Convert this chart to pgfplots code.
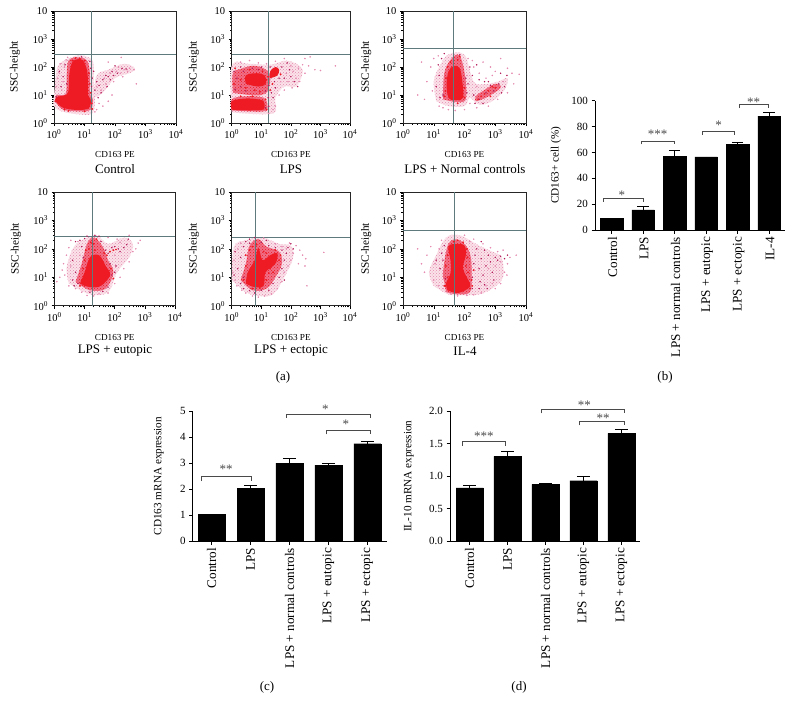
\documentclass[border=0pt]{standalone}
\usepackage{fontspec}
\setmainfont{Liberation Serif}
\usepackage{pgfplots}
\usetikzlibrary{patterns}
\pgfplotsset{compat=1.18}

\definecolor{halo}{HTML}{FBE3EA}
\definecolor{midred}{HTML}{F07088}
\definecolor{corered}{HTML}{EE1A24}
\definecolor{lightdot}{HTML}{E58AB0}
\definecolor{darkdot}{HTML}{B31C58}
\definecolor{gatecol}{HTML}{5F7A7C}
\definecolor{brkcol}{HTML}{4A4A4A}

\tikzset{
  halofill/.style={fill=halo,draw=none,smooth,tension=0.6,postaction={pattern=crosshatch dots,pattern color=lightdot}},
  midfill/.style={fill=midred,draw=none,smooth,tension=0.6,postaction={pattern=crosshatch dots,pattern color=corered}},
  corefill/.style={fill=corered,draw=none,smooth,tension=0.6},
  lightpts/.style={only marks,mark=*,mark size=0.55pt,color=lightdot},
  darkpts/.style={only marks,mark=*,mark size=0.5pt,color=darkdot},
  redpts/.style={only marks,mark=*,mark size=0.7pt,color=corered},
  gateline/.style={color=gatecol,line width=0.9pt},
}

\pgfplotsset{
  facspanel/.style={
    scale only axis,clip=false,
    xmin=1,xmax=10000,ymin=1,ymax=10000,
    xtick={1,10,100,1000,10000},ytick={1,10,100,1000,10000},
    xticklabels={10\textsuperscript{0},10\textsuperscript{1},10\textsuperscript{2},10\textsuperscript{3},10\textsuperscript{4}},
    yticklabels={10\textsuperscript{0},10\textsuperscript{1},10\textsuperscript{2},10\textsuperscript{3},10},
    tick label style={font=\fontsize{10.5}{11}\selectfont},
    tick align=outside,
    major tick length=3pt,minor tick length=1.6pt,
    xtick pos=bottom,ytick pos=left,
    axis line style={color=black!85,line width=0.8pt},
    tick style={color=black,line width=0.5pt},
    xlabel={CD163 PE},ylabel={SSC-height},
    every axis x label/.style={at={(axis description cs:0.5,-0.277)},anchor=center,font=\fontsize{9.2}{10}\selectfont},
    every axis y label/.style={at={(axis description cs:-0.32,0.5)},rotate=90,anchor=center,font=\fontsize{11.2}{12}\selectfont},
  },
  barpanel/.style={
    scale only axis,clip=false,
    axis x line*=bottom,axis y line*=left,
    axis line style={-,line width=1pt},
    ybar,ymin=0,
    xtick=data,
    x tick label style={rotate=90,anchor=east,font=\fontsize{13.2}{14}\selectfont},
    y tick label style={font=\fontsize{11}{12}\selectfont},
    major tick length=3.5pt,
    tick style={line width=1pt,color=black},
    tick align=outside,
    xtick pos=bottom,ytick pos=left,
  },
  ebar/.style={
    fill=black,draw=black,
    error bars/.cd,y dir=plus,y explicit,
    error bar style={line width=0.9pt,color=black},
    error mark options={rotate=90,mark size=#1,line width=0.9pt,color=black},
  },
}

% bracket: x1, low end at x1, top, x2, low end at x2
\newcommand{\brk}[5]{\addplot[sharp plot,color=brkcol,line width=0.7pt] coordinates {(#1,#2)(#1,#3)(#4,#3)(#4,#5)};}
\newcommand{\starlab}[3]{\node[font=\fontsize{13}{13}\selectfont,color=brkcol,yshift=-2pt] at (axis cs:#1,#2) {#3};}
\newcommand{\lab}[3]{\node[font=\fontsize{13}{14}\selectfont] at (#1pt,-#2pt) {#3};}

\begin{document}
\begin{tikzpicture}
\path[use as bounding box] (0pt,0pt) rectangle (793pt,-713pt);

% ---------- (a) Control
\begin{axis}[xmode=log,ymode=log,facspanel,at={(54pt,-123pt)},anchor=south west,width=122pt,height=112pt]
\addplot[halofill] coordinates {(1,9)(1,4)(2,2.5)(8,2)(18,2.2)(22,6)(20,30)(20,120)(15,210)(6,260)(2,160)(1.3,100)(1.1,30)(1,9)} --cycle;
\addplot[halofill] coordinates {(20,8)(40,12)(100,40)(300,60)(450,90)(200,130)(60,80)(25,50)(20,8)} --cycle;
\addplot[midfill] coordinates {(1.1,6)(2,3)(8,2.6)(16,3)(19,7)(15,12)(15,60)(12,170)(6,220)(3,170)(2.6,50)(2.4,11)(1.2,10)(1.1,6)} --cycle;
\addplot[corefill] coordinates {(1.3,5)(2,3.5)(4,3)(10,3)(15,3.8)(16,7)(13,10)(13,30)(12,80)(9,170)(6,190)(4,150)(3.2,60)(3,15)(2.5,10)(1.5,9)(1.1,7)(1.3,5)} --cycle;
\addplot[lightpts] coordinates {(1.2,20)(1.5,60)(1.6,130)(2.2,100)(2.5,180)(1.3,40)(2,30)(1.8,15)(2.8,220)(25,20)(35,15)(30,5)(50,25)(45,40)(70,60)(90,30)(110,70)(130,100)(160,220)(150,60)(200,80)(260,70)(300,90)(420,80)(500,25)(80,10)(25,3)(40,4)(60,6)(22,2.5)(60,150)(180,45)};
\addplot[darkpts] coordinates {(1.5,70)(2,45)(2.3,120)(2.6,25)(1.7,20)(1.2,8.5)(25,30)(30,22)(40,35)(50,50)(60,45)(70,35)(80,70)(100,110)(120,60)(55,20)(35,12)(22,15)(28,8)(17,20)(18,40)(16,90)(20,70)(15,160)(8,230)(230,85)(170,90)(90,50)};
\addplot[redpts] coordinates {(1.1,6)(1.3,8)(2.2,9)(3,12)(3.4,45)(14,60)(15,25)(16,12)(17,5)(4,170)(10,170)(5,210)(7,200)(2.2,3)(3,2.7)(10,2.6)(18,3.2)};
\addplot[gateline] coordinates {(17.2,1)(17.2,10000)};
\addplot[gateline] coordinates {(1,291)(10000,291)};
\end{axis}

% ---------- LPS
\begin{axis}[xmode=log,ymode=log,facspanel,at={(231.7pt,-123pt)},anchor=south west,width=118.3pt,height=112pt]
\addplot[halofill] coordinates {(1,2.4)(25,2.2)(30,8)(60,20)(150,20)(250,60)(200,110)(70,170)(20,120)(4,130)(1,110)(1,2.4)} --cycle;
\addplot[midfill] coordinates {(1.1,12)(4,10)(10,10)(17,15)(20,50)(12,90)(5,110)(2,85)(1.1,60)(1.1,12)} --cycle;
\addplot[midfill] coordinates {(1,2.8)(12,2.6)(16,4)(12,8)(3,9)(1,7)(1,2.8)} --cycle;
\addplot[corefill] coordinates {(1,3)(3,2.8)(10,2.9)(13,3.5)(12,6)(8,7)(3,7.5)(1,6)(1,3)} --cycle;
\addplot[corefill] coordinates {(3,25)(8,20)(14,25)(13,50)(7,60)(3,50)(3,25)} --cycle;
\addplot[corefill] coordinates {(20,40)(35,50)(40,80)(30,100)(20,70)(20,40)} --cycle;
\addplot[lightpts] coordinates {(2,150)(4,170)(8,140)(15,130)(30,160)(60,200)(100,110)(120,70)(150,40)(180,90)(250,120)(300,60)(400,110)(650,80)(1000,75)(3200,110)(40,10)(60,15)(30,4)(25,3)(18,2.2)(80,30)(110,18)(70,60)(45,30)(200,30)(300,200)(450,230)};
\addplot[darkpts] coordinates {(1.3,16)(1.5,40)(1.2,70)(2,20)(2.5,70)(3,14)(5,90)(8,80)(14,14)(17,8)(18,22)(22,12)(25,8)(30,18)(18,4)(14,3.5)(28,30)(40,40)(50,100)(60,40)(75,140)(100,45)(130,30)(170,20)(90,80)(20,100)(2,100)(10,100)};
\addplot[redpts] coordinates {(1.2,25)(1.3,90)(2,35)(3,18)(4,80)(6,15)(9,13)(11,70)(15,35)(17,45)(20,15)(24,25)(45,55)(2,9)(5,9)(14,7)(15,3)};
\addplot[gateline] coordinates {(17.3,1)(17.3,10000)};
\addplot[gateline] coordinates {(1,291)(10000,291)};
\end{axis}

% ---------- LPS + Normal controls
\begin{axis}[xmode=log,ymode=log,facspanel,at={(403pt,-123pt)},anchor=south west,width=123pt,height=112pt,
  every axis y label/.style={at={(axis description cs:-0.30,0.5)},rotate=90,anchor=center,font=\fontsize{11.2}{12}\selectfont}]
\addplot[halofill] coordinates {(12,6)(30,4)(100,4)(150,8)(300,4.5)(800,6)(2000,15)(2500,40)(1200,30)(500,25)(200,30)(100,270)(30,280)(15,100)(10,30)(12,6)} --cycle;
\addplot[midfill] coordinates {(20,7)(60,5.5)(110,7)(110,30)(85,150)(60,280)(35,180)(22,60)(20,7)} --cycle;
\addplot[midfill] coordinates {(230,6)(500,8)(1500,18)(1000,25)(400,14)(230,9)(230,6)} --cycle;
\addplot[corefill] coordinates {(26,25)(30,8)(55,6.5)(90,8)(85,30)(70,90)(45,110)(30,70)(26,25)} --cycle;
\addplot[lightpts] coordinates {(3,10)(5,7)(4,150)(6,30)(8,100)(9,14)(10,200)(14,250)(15,4)(20,3.5)(30,3)(50,2.8)(100,3)(150,5)(250,3.5)(130,200)(200,100)(300,60)(500,40)(700,100)(1000,70)(1500,200)(2500,90)(3500,60)(6000,55)(4000,25)(2500,12)(1200,7)(600,4)(180,170)(400,150)(800,50)(1800,30)(250,20)(120,50)};
\addplot[darkpts] coordinates {(12,20)(15,50)(14,120)(18,200)(20,10)(16,8)(22,300)(70,270)(110,40)(120,12)(130,25)(150,100)(180,50)(200,10)(220,5)(300,7)(400,5)(500,12)(700,22)(900,14)(1300,25)(1600,12)(2000,20)(2400,50)(1500,60)(250,120)(300,35)(450,30)(600,30)};
\addplot[redpts] coordinates {(22,9)(24,14)(25,40)(28,100)(35,150)(60,180)(70,240)(60,5)(100,8)(100,18)(280,7)(350,9)(450,11)(600,14)(800,20)(1000,18)(700,9)};
\addplot[gateline] coordinates {(45,1)(45,10000)};
\addplot[gateline] coordinates {(1,478)(10000,478)};
\end{axis}

% ---------- LPS + eutopic
\begin{axis}[xmode=log,ymode=log,facspanel,at={(54.5pt,-305.7pt)},anchor=south west,width=120.5pt,height=113.7pt]
\addplot[halofill] coordinates {(3,6)(15,2.5)(60,3)(120,15)(300,50)(400,150)(200,250)(60,150)(25,300)(8,200)(4,100)(2.5,20)(3,6)} --cycle;
\addplot[midfill] coordinates {(5,7)(15,3.5)(50,4)(90,15)(60,40)(40,120)(20,250)(12,150)(8,30)(5,7)} --cycle;
\addplot[corefill] coordinates {(7,6)(15,4.5)(35,5)(70,12)(50,25)(30,60)(15,50)(10,15)(7,6)} --cycle;
\addplot[lightpts] coordinates {(1.2,7)(1.5,10)(1.8,18)(2,30)(2.5,60)(3,110)(3.5,200)(2.2,12)(3,5)(5,4)(8,3)(12,2.3)(20,2.2)(30,2.6)(60,2.8)(100,6)(150,10)(200,20)(300,35)(500,100)(700,200)(300,300)(150,170)(100,60)(6,180)(7,60)(120,220)(60,250)(400,80)(3.5,25)(600,160)};
\addplot[darkpts] coordinates {(4,8)(5,15)(4,40)(5,180)(7,200)(8,120)(10,230)(9,50)(12,280)(22,300)(30,280)(35,180)(50,90)(60,70)(80,110)(100,120)(130,100)(150,80)(200,110)(250,140)(110,25)(80,12)(100,15)(70,30)(280,220)(6,6)(4.5,5)(15,3)(40,3.2)(60,4.5)};
\addplot[redpts] coordinates {(8,8)(9,20)(10,40)(11,90)(14,100)(16,170)(20,150)(25,220)(22,90)(45,70)(55,60)(70,80)(90,90)(110,95)(75,20)(90,9)(10,5)(7,5)};
\addplot[gateline] coordinates {(17.6,1)(17.6,10000)};
\addplot[gateline] coordinates {(1,268)(10000,268)};
\end{axis}

% ---------- LPS + ectopic
\begin{axis}[xmode=log,ymode=log,facspanel,at={(231.7pt,-305.7pt)},anchor=south west,width=118.3pt,height=113.7pt]
\addplot[halofill] coordinates {(1,8)(3,3)(8,2.2)(25,2.5)(60,10)(120,50)(100,130)(40,150)(10,260)(3,200)(1.2,120)(1,8)} --cycle;
\addplot[midfill] coordinates {(2,8)(5,3.5)(15,4)(30,10)(50,30)(40,80)(15,120)(8,220)(4,130)(3,30)(2,8)} --cycle;
\addplot[corefill] coordinates {(3,6)(6,4.5)(12,5)(14,15)(30,30)(35,70)(20,60)(11,40)(8,110)(6,40)(3.5,15)(3,6)} --cycle;
\addplot[lightpts] coordinates {(1.1,15)(1.2,40)(1.3,8)(1.5,5)(1.6,100)(2,160)(2.2,3.5)(3,2.8)(5,2.2)(8,2)(13,2.2)(22,2.6)(35,4)(50,7)(60,15)(80,25)(100,40)(120,70)(150,130)(90,160)(50,120)(180,30)(250,60)(350,5)(320,45)(1300,75)(200,90)(70,100)(30,150)(12,240)(300,25)};
\addplot[darkpts] coordinates {(1.2,12)(1.3,80)(1.6,20)(2,50)(2.5,120)(3,180)(4,220)(6,250)(2,6)(2.5,10)(2.5,4)(4,3.4)(6,2.8)(10,3.5)(18,3.5)(25,6)(40,10)(50,20)(60,40)(70,70)(80,110)(100,150)(50,90)(30,110)(18,130)(15,200)(10,170)(4,160)(60,8)(120,100)};
\addplot[redpts] coordinates {(2.5,8)(3,25)(3,60)(4,90)(5,120)(7,140)(12,80)(15,70)(20,20)(25,15)(40,40)(45,60)(30,90)(18,14)(15,8)(9,4.2)(5,4)};
\addplot[gateline] coordinates {(6.6,1)(6.6,10000)};
\addplot[gateline] coordinates {(1,261)(10000,261)};
\end{axis}

% ---------- IL-4
\begin{axis}[xmode=log,ymode=log,facspanel,at={(403pt,-305.7pt)},anchor=south west,width=123pt,height=113.7pt,
  every axis y label/.style={at={(axis description cs:-0.30,0.5)},rotate=90,anchor=center,font=\fontsize{11.2}{12}\selectfont}]
\addplot[halofill] coordinates {(10,5)(30,2.5)(100,2.3)(300,2.5)(800,4)(1800,10)(1600,50)(800,80)(300,130)(70,300)(25,250)(12,60)(7,15)(10,5)} --cycle;
\addplot[midfill] coordinates {(25,3)(60,2.5)(150,3)(170,10)(150,70)(70,200)(30,150)(20,15)(22,7)(25,3)} --cycle;
\addplot[corefill] coordinates {(28,3.5)(60,2.8)(130,4)(150,6)(90,20)(110,60)(100,130)(55,150)(30,120)(35,40)(35,14)(25,6)(28,3.5)} --cycle;
\addplot[lightpts] coordinates {(3,100)(4,30)(5,15)(6,60)(8,120)(10,8)(11,30)(14,5)(15,100)(18,200)(20,4)(35,2.6)(60,2.2)(120,2.3)(200,2.4)(350,2.8)(500,5)(800,6)(1000,4)(1500,6)(2000,15)(2500,30)(3000,50)(1800,90)(1200,80)(700,110)(400,150)(200,220)(100,300)(1000,25)(600,20)(4800,60)(1500,35)(2400,12)(150,180)};
\addplot[darkpts] coordinates {(12,40)(16,20)(18,70)(20,40)(22,130)(24,9)(180,10)(200,30)(220,60)(250,100)(300,20)(320,7)(350,45)(400,12)(450,90)(500,25)(550,4)(600,60)(700,35)(800,15)(1000,50)(1200,40)(1500,55)(2000,45)(2500,60)(300,4)(450,5.5)(180,4)(350,180)(900,8)};
\addplot[redpts] coordinates {(25,25)(28,10)(22,5)(24,5)(28,60)(32,100)(150,4)(170,8)(130,15)(110,25)(125,50)(120,100)(90,170)(45,180)(60,200)(180,5)(200,18)};
\addplot[gateline] coordinates {(48,1)(48,10000)};
\addplot[gateline] coordinates {(1,460)(10000,460)};
\end{axis}

% ---------- (b)
\begin{axis}[barpanel,at={(595pt,-230pt)},anchor=south west,width=190pt,height=129.3pt,
  xmin=-0.527,xmax=5.505,ymax=100,bar width=22.3pt,
  ytick={0,20,40,60,80,100},yticklabels={0,20,40,60,80,100},
  xticklabels={Control,LPS,LPS + normal controls,LPS + eutopic,LPS + ectopic,IL-4},
  x tick label style={yshift=-1pt},
  ylabel={CD163+ cell (\%)},
  every axis y label/.style={at={(axis description cs:-0.205,0.5)},rotate=90,anchor=center,font=\fontsize{11.2}{12}\selectfont}]
\addplot[ebar=5.8pt] coordinates {(0,9) +- (0,0) (1,15.5) +- (0,2.5) (2,57) +- (0,4.5) (3,56.5) +- (0,0) (4,66) +- (0,1.7) (5,88) +- (0,3)};
\brk{-0.275}{22}{24.5}{1}{22}
\brk{0.93}{66.2}{68.8}{1.99}{66.2}
\brk{2.87}{73.5}{76}{3.89}{73.5}
\brk{4.06}{94.3}{96.9}{4.98}{94.3}
\starlab{0.33}{28.4}{*}
\starlab{1.46}{75.5}{***}
\starlab{3.40}{82.5}{*}
\starlab{4.51}{100.5}{**}
\end{axis}

% ---------- (c)
\begin{axis}[barpanel,at={(192.7pt,-541pt)},anchor=south west,width=194pt,height=129.7pt,
  xmin=-0.489,xmax=4.5,ymax=5,bar width=27pt,
  ytick={0,1,2,3,4,5},yticklabels={0,1,2,3,4,5},
  xticklabels={Control,LPS,LPS + normal controls,LPS + eutopic,LPS + ectopic},
  ylabel={CD163 mRNA expression},
  every axis y label/.style={at={(axis description cs:-0.174,0.5)},rotate=90,anchor=center,font=\fontsize{11.2}{12}\selectfont}]
\addplot[ebar=6.5pt] coordinates {(0,1.03) +- (0,0) (1,2.02) +- (0,0.14) (2,3.0) +- (0,0.19) (3,2.93) +- (0,0.07) (4,3.75) +- (0,0.09)};
\brk{-0.26}{2.31}{2.5}{1.01}{2.31}
\brk{1.93}{4.76}{4.9}{4.08}{4.76}
\brk{2.94}{4.11}{4.28}{4.08}{4.11}
\starlab{0.37}{2.83}{**}
\starlab{2.92}{5.15}{*}
\starlab{3.45}{4.56}{*}
\end{axis}

% ---------- (d)
\begin{axis}[barpanel,at={(450pt,-541pt)},anchor=south west,width=190pt,height=129.7pt,
  xmin=-0.52,xmax=4.49,ymax=2,bar width=27.3pt,
  ytick={0,0.5,1,1.5,2},yticklabels={0.0,0.5,1.0,1.5,2.0},
  xticklabels={Control,LPS,LPS + normal controls,LPS + eutopic,LPS + ectopic},
  ylabel={IL-10 mRNA expression},
  every axis y label/.style={at={(axis description cs:-0.216,0.5)},rotate=90,anchor=center,font=\fontsize{11.2}{12}\selectfont}]
\addplot[ebar=6.5pt] coordinates {(0,0.82) +- (0,0.044) (1,1.306) +- (0,0.072) (2,0.874) +- (0,0.01) (3,0.93) +- (0,0.07) (4,1.66) +- (0,0.06)};
\brk{-0.19}{1.47}{1.537}{0.94}{1.47}
\brk{1.88}{1.97}{2.03}{4.07}{1.97}
\brk{2.9}{1.784}{1.84}{4.07}{1.784}
\starlab{0.37}{1.645}{***}
\starlab{3.02}{2.13}{**}
\starlab{3.52}{1.92}{**}
\end{axis}

% ---------- captions
\lab{115}{169}{Control}
\lab{291}{169}{LPS}
\lab{465}{169}{LPS + Normal controls}
\lab{115}{351}{LPS + eutopic}
\lab{291}{351}{LPS + ectopic}
\lab{465}{351}{IL-4}
\lab{283}{377}{(a)}
\lab{665}{377}{(b)}
\lab{267}{687}{(c)}
\lab{519}{687}{(d)}
\end{tikzpicture}
\end{document}
